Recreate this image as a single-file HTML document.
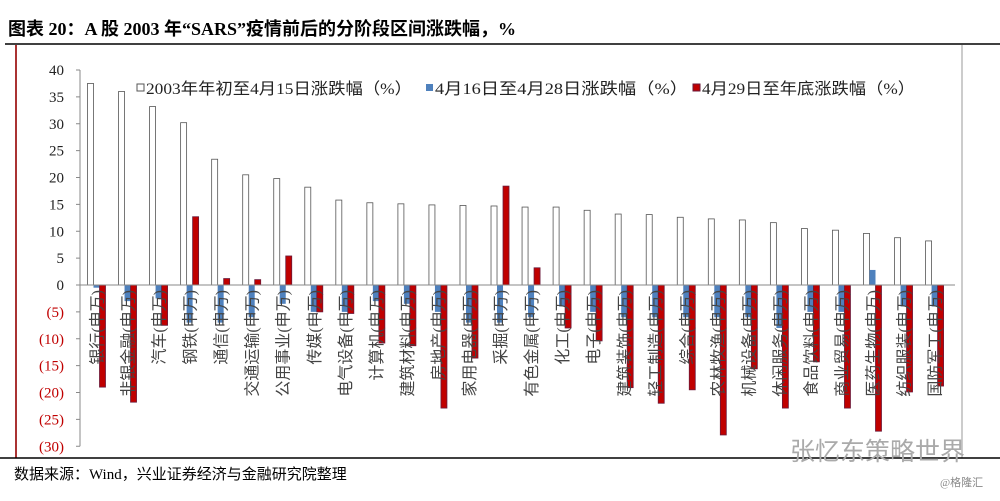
<!DOCTYPE html>
<html><head><meta charset="utf-8"><style>
body{margin:0;background:#fff;width:1000px;height:496px;overflow:hidden}
svg text{font-family:"Liberation Serif","Noto Sans CJK SC",serif}
</style></head><body>
<svg id="c" width="1000" height="496" xmlns="http://www.w3.org/2000/svg">
<text x="8" y="35" font-size="18" font-weight="bold" fill="#000">图表 20：A 股 2003 年“SARS”疫情前后的分阶段区间涨跌幅，%</text>
<line x1="5" y1="44" x2="1000" y2="44" stroke="#000" stroke-width="1.5"/>
<line x1="16" y1="45" x2="16" y2="458" stroke="#a33" stroke-width="2"/>
<line x1="962" y1="45" x2="962" y2="458" stroke="#999" stroke-width="1"/>
<line x1="0" y1="458" x2="1000" y2="458" stroke="#000" stroke-width="1.5"/>
<text x="14" y="479" font-size="15" fill="#000">数据来源：Wind，兴业证券经济与金融研究院整理</text>
<text x="790" y="460" font-size="25" fill="#aaa" font-family="Liberation Sans,'Noto Sans CJK SC',sans-serif">张忆东策略世界</text>
<text x="940" y="486" font-size="11" fill="#888">@格隆汇</text>
<g id="plot"></g>
<g font-size="16">
<rect x="137" y="84" width="7" height="7" fill="#fff" stroke="#555"/>
<text x="146" y="94" fill="#222" textLength="266" lengthAdjust="spacingAndGlyphs">2003年年初至4月15日涨跌幅（%）</text>
<rect x="426" y="84" width="7" height="7" fill="#4f81bd"/>
<text x="435" y="94" fill="#222" textLength="253" lengthAdjust="spacingAndGlyphs">4月16日至4月28日涨跌幅（%）</text>
<rect x="693" y="84" width="7" height="7" fill="#c00000" stroke="#6a1a3a"/>
<text x="702" y="94" fill="#222" textLength="213" lengthAdjust="spacingAndGlyphs">4月29日至年底涨跌幅（%）</text>
</g>
</svg>
<script>
const categories=["银行(申万)","非银金融(申万)","汽车(申万)","钢铁(申万)","通信(申万)","交通运输(申万)","公用事业(申万)","传媒(申万)","电气设备(申万)","计算机(申万)","建筑材料(申万)","房地产(申万)","家用电器(申万)","采掘(申万)","有色金属(申万)","化工(申万)","电子(申万)","建筑装饰(申万)","轻工制造(申万)","综合(申万)","农林牧渔(申万)","机械设备(申万)","休闲服务(申万)","食品饮料(申万)","商业贸易(申万)","医药生物(申万)","纺织服装(申万)","国防军工(申万)"];
const seriesPre=[37.5,36,33.2,30.2,23.4,20.5,19.8,18.2,15.8,15.3,15.1,14.9,14.8,14.7,14.5,14.5,13.9,13.2,13.1,12.6,12.3,12.1,11.6,10.5,10.2,9.6,8.8,8.2];
const seriesMid=[-0.5,-3,-2.5,-7,-7,-6,-3.5,-5,-5,-3,-3.5,-5,-7,-7,-6,-4,-5,-6,-6,-6,-6,-6,-8,-5,-5,2.8,-4,-4];
const seriesPost=[-19,-21.8,-7.5,12.7,1.2,1,5.4,-5,-5.3,-10.8,-11.3,-22.9,-13.6,18.4,3.2,-8,-10.4,-19.1,-22,-19.5,-27.9,-15.6,-22.9,-14.3,-22.9,-27.2,-19.9,-18.8];
const yTicks=[40,35,30,25,20,15,10,5,0,-5,-10,-15,-20,-25,-30];
const NS="http://www.w3.org/2000/svg";
const g=document.getElementById('plot');
const y=v=>285-v*5.375;
const xc=i=>96.5+i*31.04;
function mk(t,a){const e=document.createElementNS(NS,t);for(const k in a)e.setAttribute(k,a[k]);g.appendChild(e);return e;}
let ax=mk('line',{x1:80,y1:y(40),x2:80,y2:y(-30),stroke:'#888'});


yTicks.forEach(v=>{
 const tk=mk('line',{x1:76,x2:80,y1:y(v),y2:y(v),stroke:'#888'});
 
 
 const t=mk('text',{x:64,y:y(v)+5,'font-size':15,'text-anchor':'end',fill:v<0?'#c00000':'#222'});
 t.textContent=v<0?'('+(-v)+')':String(v);
 
 
});
categories.forEach((c,i)=>{
 const cx=xc(i);
 const bars=[[seriesPre[i],-9,'#fff','#555','bar-pre'],[seriesMid[i],-3,'#4f81bd','none','bar-mid'],[seriesPost[i],3,'#c00000','#6a1a3a','bar-post']];
 bars.forEach(b=>{
  const v=b[0];const top=Math.min(y(v),y(0));const h=Math.abs(y(v)-y(0));
  const r=mk('rect',{x:cx+b[1],y:top,width:6,height:h,fill:b[2],stroke:b[3],'stroke-width':0.8});
  
  
 });
});
let xa=mk('line',{x1:80,y1:y(0),x2:955,y2:y(0),stroke:'#888'});


categories.forEach((c,i)=>{
 const cx=xc(i);
 const t=mk('text',{x:0,y:0,'font-size':16,'text-anchor':'end',fill:'#444',transform:`translate(${cx+6},290) rotate(-90)`,'font-family':"Liberation Sans,'Noto Sans CJK SC',sans-serif"});
 t.textContent=c;
 
 
});
</script>
</body></html>
